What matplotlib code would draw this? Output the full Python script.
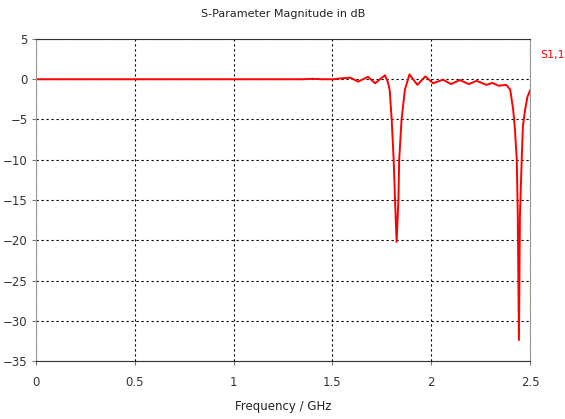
import matplotlib
matplotlib.use("Agg")
from matplotlib import pyplot as plt

freq = [0.0, 0.5, 1.0, 1.30, 1.35, 1.40, 1.45, 1.505, 1.54, 1.59, 1.63, 1.68, 1.716,
        1.766, 1.78, 1.79, 1.80, 1.81, 1.817, 1.825, 1.834, 1.838, 1.85, 1.867,
        1.89, 1.93, 1.97, 2.01, 2.06, 2.10, 2.145, 2.19, 2.23, 2.28, 2.31, 2.34,
        2.38, 2.40, 2.415, 2.424, 2.433, 2.438, 2.444, 2.449, 2.458, 2.464,
        2.475, 2.487, 2.5]
s11 = [0.0, 0.0, 0.0, 0.0, 0.0, 0.05, 0.0, 0.0, 0.1, 0.2, -0.3, 0.3, -0.5,
       0.5, -0.3, -1.35, -5.0, -10.0, -15.0, -20.2, -15.0, -10.0, -5.0, -1.3,
       0.6, -0.7, 0.35, -0.5, -0.05, -0.6, -0.1, -0.6, -0.2, -0.7, -0.45, -0.8,
       -0.7, -1.3, -3.8, -6.3, -10.0, -16.6, -32.4, -17.0, -10.0, -5.9,
       -3.8, -2.2, -1.4]

xticks = [0, 0.5, 1, 1.5, 2, 2.5]
yticks = [5, 0, -5, -10, -15, -20, -25, -30, -35]

fig = plt.figure(figsize=(5.65, 4.19), dpi=100)
ax = fig.add_axes([36 / 565, 58 / 419, 494 / 565, 322 / 419])

ax.plot(freq, s11, color="#ff0000", linewidth=1.4)

ax.set_xlim(0, 2.5)
ax.set_ylim(-35, 5)
ax.set_xticks(xticks)
ax.set_xticklabels(["0", "0.5", "1", "1.5", "2", "2.5"])
ax.set_yticks(yticks)
ax.grid(True, color="black", linestyle=(0, (2, 2.5)), linewidth=0.8)
ax.tick_params(labelsize=8.5, length=3, color="#777777", direction="out",
               labelcolor="#333333")
ax.tick_params(axis="x", pad=8)
ax.tick_params(axis="y", pad=3)

for side in ["left", "right"]:
    ax.spines[side].set_color("#999999")
for side in ["top", "bottom"]:
    ax.spines[side].set_color("#333333")

fig.text(283 / 565, 1 - 14 / 419, "S-Parameter Magnitude in dB", ha="center",
         va="center", fontsize=8, color="#222222")
fig.text(283 / 565, 1 - 406 / 419, "Frequency / GHz", ha="center",
         va="center", fontsize=8.5, color="#222222")
fig.text(540 / 565, 1 - 55 / 419, "S1,1", color="#ff0000", ha="left",
         va="center", fontsize=8)

plt.savefig("out.png", dpi=100)
